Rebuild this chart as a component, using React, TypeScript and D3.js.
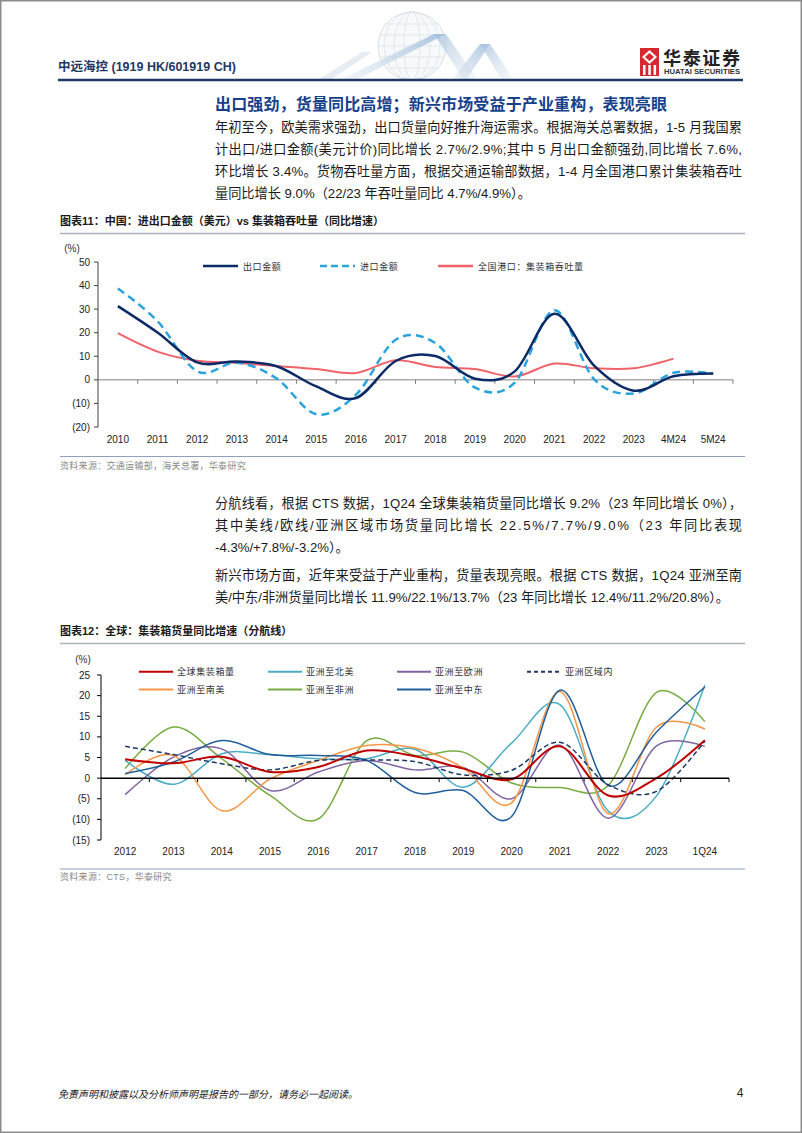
import React from 'react';
import * as d3 from 'd3';

// ---------- Chart 1 data ----------
const cats1 = ['2010','2011','2012','2013','2014','2015','2016','2017','2018','2019','2020','2021','2022','2023','4M24','5M24'];
const exportYoY = [31.3, 20.1, 7.4, 7.8, 5.8, -2.8, -7.7, 8.0, 10.1, 0.5, 3.6, 28.0, 6.0, -4.6, 1.5, 2.7];
const importYoY = [38.8, 24.9, 3.6, 7.3, 0.6, -14.6, -6.3, 17.0, 15.6, -3.3, -1.2, 29.5, 0.3, -5.8, 3.0, 2.6];
const portTEU = [19.8, 12.0, 8.1, 7.2, 5.9, 4.6, 2.9, 8.3, 5.5, 4.6, 1.4, 6.9, 4.9, 4.9, 9.0];
const ticks1 = [-20, -10, 0, 10, 20, 30, 40, 50];

// ---------- Chart 2 data ----------
const cats2 = ['2012','2013','2014','2015','2016','2017','2018','2019','2020','2021','2022','2023','1Q24'];
const globalTEU = [4.6, 3.6, 5.2, 1.5, 2.7, 6.7, 5.3, 2.3, -0.3, 7.7, -4.2, 0.0, 9.2];
const asiaNA = [4.3, -1.5, 5.9, 5.7, 4.7, 4.7, 7.0, -2.2, 8.5, 17.8, -8.0, -4.3, 22.5];
const asiaEU = [-4.0, 5.1, 7.1, -3.0, 1.5, 4.3, 2.0, 2.6, -5.0, 8.0, -9.7, 7.8, 7.7];
const intraAsia = [7.7, 5.7, 3.5, 2.0, 4.3, 4.4, 4.0, 0.8, 1.9, 8.7, -1.6, -3.2, 9.0];
const asiaSA = [0.8, 5.5, -7.9, -0.2, 4.3, 7.9, 7.3, 2.5, -6.0, 21.0, -8.6, 12.4, 11.9];
const asiaAF = [2.3, 12.4, 4.7, -4.2, -9.9, 9.1, 5.5, 6.3, -1.2, -2.3, -1.8, 20.8, 13.7];
const asiaME = [1.1, 3.9, 9.1, 5.7, 5.5, 4.3, -3.5, -3.0, -9.3, 21.3, -1.8, 11.2, 22.1];
const ticks2 = [-15, -10, -5, 0, 5, 10, 15, 20, 25];

// ---------- Text ----------
const headerTitle = '中远海控 (1919 HK/601919 CH)';
const sectionTitle = '出口强劲，货量同比高增；新兴市场受益于产业重构，表现亮眼';
const para1 = [
  '年初至今，欧美需求强劲，出口货量向好推升海运需求。根据海关总署数据，1-5 月我国累',
  '计出口/进口金额(美元计价)同比增长 2.7%/2.9%;其中 5 月出口金额强劲,同比增长 7.6%,',
  '环比增长 3.4%。货物吞吐量方面，根据交通运输部数据，1-4 月全国港口累计集装箱吞吐',
  '量同比增长 9.0%（22/23 年吞吐量同比 4.7%/4.9%）。',
];
const para2 = [
  '分航线看，根据 CTS 数据，1Q24 全球集装箱货量同比增长 9.2%（23 年同比增长 0%），',
  '其中美线/欧线/亚洲区域市场货量同比增长 22.5%/7.7%/9.0%（23 年同比表现',
  '-4.3%/+7.8%/-3.2%）。',
];
const para3 = [
  '新兴市场方面，近年来受益于产业重构，货量表现亮眼。根据 CTS 数据，1Q24 亚洲至南',
  '美/中东/非洲货量同比增长 11.9%/22.1%/13.7%（23 年同比增长 12.4%/11.2%/20.8%）。',
];
const chart1Title = '图表11：中国：进出口金额（美元）vs 集装箱吞吐量（同比增速）';
const chart1Source = '资料来源：交通运输部，海关总署，华泰研究';
const chart2Title = '图表12：全球：集装箱货量同比增速（分航线）';
const chart2Source = '资料来源：CTS，华泰研究';
const footerText = '免责声明和披露以及分析师声明是报告的一部分，请务必一起阅读。';

const MIX = "'Liberation Sans', Arial, 'Noto Sans CJK SC', sans-serif";
const CN = "'Noto Sans CJK SC', sans-serif";

const fmt = (d: number) => (d < 0 ? `(${-d})` : `${d}`);

function Para({ lines, y0, justifyLast }: { lines: string[]; y0: number; justifyLast?: boolean }) {
  return (
    <g>
      {lines.map((l, i) => {
        const just = i < lines.length - 1 || justifyLast;
        return (
          <text key={i} x={215} y={y0 + i * 22} dominantBaseline="central" fontSize={13.2} fontFamily={MIX} fill="#1a1a1a"
            {...(just ? { textLength: 527, lengthAdjust: 'spacing' } : {})}>{l}</text>
        );
      })}
    </g>
  );
}

function Chart1() {
  const x = d3.scaleBand<string>().domain(cats1).range([98, 733]);
  const y = d3.scaleLinear().domain([-20, 50]).range([427, 262]);
  const cx = (c: string) => (x(c) as number) + x.bandwidth() / 2;
  const line = d3.line<[string, number]>().x(d => cx(d[0])).y(d => y(d[1])).curve(d3.curveCatmullRom.alpha(0));
  const ex = cats1.map((c, i) => [c, exportYoY[i]] as [string, number]);
  const im = cats1.map((c, i) => [c, importYoY[i]] as [string, number]);
  const pt = portTEU.map((v, i) => [cats1[i], v] as [string, number]);
  const legend = [
    { x: 203, label: '出口金额', color: '#0c2a66', dash: undefined as string | undefined },
    { x: 320, label: '进口金额', color: '#2aa3dc', dash: '7,4' },
    { x: 438, label: '全国港口：集装箱吞吐量', color: '#f0636b', dash: undefined },
  ];
  return (
    <g>
      <text x={60} y={221} dominantBaseline="central" fontSize={11} fontWeight="bold" fontFamily={MIX} fill="#1a1a1a">{chart1Title}</text>
      <line x1={60} x2={745} y1={233.5} y2={233.5} stroke="#aab2c0" strokeWidth={1.5} />
      <text x={72} y={248} textAnchor="middle" dominantBaseline="central" fontSize={10} fontFamily={MIX} fill="#333">(%)</text>
      {/* y axis */}
      <line x1={98} x2={98} y1={y(50)} y2={y(-20)} stroke="#404040" strokeWidth={1} />
      {ticks1.map(t => (
        <g key={t}>
          <line x1={94} x2={98} y1={y(t)} y2={y(t)} stroke="#404040" />
          <text x={90} y={y(t)} textAnchor="end" dominantBaseline="central" fontSize={10} fontFamily={MIX} fill="#222">{fmt(t)}</text>
        </g>
      ))}
      {/* x axis at zero */}
      <line x1={98} x2={733} y1={y(0)} y2={y(0)} stroke="#7f7f7f" strokeWidth={1} />
      {cats1.map((c) => (
        <g key={c}>
          <line x1={(x(c) as number) + x.bandwidth()} x2={(x(c) as number) + x.bandwidth()} y1={y(0)} y2={y(0) + 4} stroke="#7f7f7f" />
          <text x={cx(c)} y={439} textAnchor="middle" dominantBaseline="central" fontSize={10} fontFamily={MIX} fill="#222">{c}</text>
        </g>
      ))}
      <path d={line(pt) as string} fill="none" stroke="#f0636b" strokeWidth={2} />
      <path d={line(im) as string} fill="none" stroke="#2aa3dc" strokeWidth={2.5} strokeDasharray="8,5" />
      <path d={line(ex) as string} fill="none" stroke="#0c2a66" strokeWidth={2.5} />
      {legend.map(l => (
        <g key={l.label}>
          <line x1={l.x} x2={l.x + 35} y1={266} y2={266} stroke={l.color} strokeWidth={2.5} strokeDasharray={l.dash} />
          <text x={l.x + 40} y={266} dominantBaseline="central" fontSize={9} letterSpacing={0.6} fontFamily={CN} fill="#333">{l.label}</text>
        </g>
      ))}
      <line x1={60} x2={745} y1={456.5} y2={456.5} stroke="#8ea0c0" strokeWidth={1} />
      <text x={60} y={466} dominantBaseline="central" fontSize={9} letterSpacing={0.3} fontFamily={MIX} fill="#8a8a8a">{chart1Source}</text>
    </g>
  );
}

function Chart2() {
  const x = d3.scaleBand<string>().domain(cats2).range([101, 729]);
  const y = d3.scaleLinear().domain([-15, 25]).range([840, 675]);
  const cx = (c: string) => (x(c) as number) + x.bandwidth() / 2;
  const line = d3.line<number>().x((_, i) => cx(cats2[i])).y(d => y(d)).curve(d3.curveCatmullRom.alpha(0));
  const series = [
    { label: '全球集装箱量', data: globalTEU, color: '#c00000', dash: undefined as string | undefined, w: 2, lx: 139, row: 0 },
    { label: '亚洲至北美', data: asiaNA, color: '#4bacc6', dash: undefined, w: 1.5, lx: 268, row: 0 },
    { label: '亚洲至欧洲', data: asiaEU, color: '#8064a2', dash: undefined, w: 1.5, lx: 397, row: 0 },
    { label: '亚洲区域内', data: intraAsia, color: '#1f3864', dash: '5,3', w: 1.5, lx: 527, row: 0 },
    { label: '亚洲至南美', data: asiaSA, color: '#f79646', dash: undefined, w: 1.5, lx: 139, row: 1 },
    { label: '亚洲至非洲', data: asiaAF, color: '#77ac41', dash: undefined, w: 1.5, lx: 268, row: 1 },
    { label: '亚洲至中东', data: asiaME, color: '#215f9c', dash: undefined, w: 1.5, lx: 397, row: 1 },
  ];
  const drawOrder = [5, 1, 2, 4, 6, 3, 0];
  return (
    <g>
      <text x={60} y={631} dominantBaseline="central" fontSize={11} fontWeight="bold" fontFamily={MIX} fill="#1a1a1a">{chart2Title}</text>
      <line x1={60} x2={745} y1={643.5} y2={643.5} stroke="#aab2c0" strokeWidth={1.5} />
      <text x={83} y={659} textAnchor="middle" dominantBaseline="central" fontSize={10} fontFamily={MIX} fill="#333">(%)</text>
      <line x1={101} x2={101} y1={y(25)} y2={y(-15)} stroke="#000" strokeWidth={1} />
      {ticks2.map(t => (
        <g key={t}>
          <line x1={97} x2={101} y1={y(t)} y2={y(t)} stroke="#000" />
          <text x={90} y={y(t)} textAnchor="end" dominantBaseline="central" fontSize={10} fontFamily={MIX} fill="#222">{fmt(t)}</text>
        </g>
      ))}
      {cats2.map(c => (
        <g key={c}>
          <line x1={(x(c) as number) + x.bandwidth()} x2={(x(c) as number) + x.bandwidth()} y1={y(0)} y2={y(0) + 4} stroke="#000" />
          <text x={cx(c)} y={851} textAnchor="middle" dominantBaseline="central" fontSize={10} fontFamily={MIX} fill="#222">{c}</text>
        </g>
      ))}
      {drawOrder.map(i => {
        const s = series[i];
        return <path key={s.label} d={line(s.data) as string} fill="none" stroke={s.color} strokeWidth={s.w} strokeDasharray={s.dash} />;
      })}
      <line x1={101} x2={729} y1={y(0)} y2={y(0)} stroke="#000" strokeWidth={1.5} />
      {series.map(s => {
        const ly = s.row === 0 ? 671.7 : 689.5;
        return (
          <g key={s.label}>
            <line x1={s.lx} x2={s.lx + 34} y1={ly} y2={ly} stroke={s.color} strokeWidth={2} strokeDasharray={s.dash ? '4,3' : undefined} />
            <text x={s.lx + 38} y={ly} dominantBaseline="central" fontSize={9} letterSpacing={0.6} fontFamily={CN} fill="#333">{s.label}</text>
          </g>
        );
      })}
      <line x1={60} x2={745} y1={869} y2={869} stroke="#8ea0c0" strokeWidth={1} />
      <text x={60} y={877} dominantBaseline="central" fontSize={9} letterSpacing={0.3} fontFamily={MIX} fill="#8a8a8a">{chart2Source}</text>
    </g>
  );
}

function Header() {
  const globeLines = [8, 18, 28];
  return (
    <g>
      <defs>
        <clipPath id="hdrclip"><rect x={300} y={0} width={240} height={80} /></clipPath>
        <linearGradient id="rib1" x1="0" y1="1" x2="1" y2="0">
          <stop offset="0" stopColor="#e3e9f0" stopOpacity={0.5} />
          <stop offset="1" stopColor="#7ea7cf" stopOpacity={0.75} />
        </linearGradient>
        <linearGradient id="rib2" x1="0" y1="0" x2="1" y2="1">
          <stop offset="0" stopColor="#94b4d6" stopOpacity={0.75} />
          <stop offset="1" stopColor="#e8edf2" stopOpacity={0.4} />
        </linearGradient>
      </defs>
      <g clipPath="url(#hdrclip)" opacity={0.85}>
        <circle cx={412} cy={46} r={34} fill="#f6f8fa" stroke="#d3dbe3" strokeWidth={1} />
        {globeLines.map(r => (
          <ellipse key={r} cx={412} cy={46} rx={r} ry={34} fill="none" stroke="#d8dfe6" strokeWidth={0.8} />
        ))}
        {[-22, -11, 0, 11, 22].map(o => (
          <line key={o} x1={412 - Math.sqrt(34 * 34 - o * o)} x2={412 + Math.sqrt(34 * 34 - o * o)} y1={46 + o} y2={46 + o} stroke="#d8dfe6" strokeWidth={0.8} />
        ))}
        <polygon points="340,80 356,80 446,34 434,34" fill="url(#rib1)" />
        <polygon points="434,34 446,34 478,80 464,80" fill="url(#rib2)" />
        <polygon points="452,80 466,80 490,44 480,44" fill="url(#rib1)" />
        <polygon points="480,44 490,44 514,80 502,80" fill="url(#rib2)" />
        <polygon points="318,80 330,80 372,52 362,52" fill="#d6e0ea" opacity={0.7} />
      </g>
      <text x={58} y={67} dominantBaseline="central" fontSize={12.5} fontWeight="bold" fontFamily={MIX} fill="#1f3864">{headerTitle}</text>
      <line x1={58} x2={743} y1={80} y2={80} stroke="#1f3864" strokeWidth={2.5} />
      {/* logo */}
      <rect x={640} y={48} width={19} height={28} fill="#d7282f" />
      <polygon points="649.5,50 657,57 649.5,64 642,57" fill="#fff" />
      <polygon points="649.5,53 654,57 649.5,61 645,57" fill="#d7282f" />
      <rect x={643} y={65} width={2.5} height={10} fill="#fff" />
      <rect x={648.3} y={65} width={2.5} height={10} fill="#fff" />
      <rect x={653.6} y={65} width={2.5} height={10} fill="#fff" />
      <text x={663} y={57} dominantBaseline="central" fontSize={18} fontWeight="bold" fontFamily={CN} fill="#222" textLength={77} lengthAdjust="spacing">华泰证券</text>
      <text x={664} y={71.5} dominantBaseline="central" fontSize={7} fontWeight="bold" fontFamily={MIX} fill="#333" textLength={76} lengthAdjust="spacingAndGlyphs">HUATAI SECURITIES</text>
    </g>
  );
}

export default function App() {
  return (
    <svg width={802} height={1133} viewBox="0 0 802 1133" style={{ position: 'absolute', left: 0, top: 0, display: 'block', background: '#fff' }}>
      <rect x={0} y={0} width={802} height={1133} fill="#fff" />
      <Header />
      <text x={215} y={103} dominantBaseline="central" fontSize={16} fontWeight="bold" fontFamily={CN} fill="#17408b" textLength={452} lengthAdjust="spacing">{sectionTitle}</text>
      <Para lines={para1} y0={127} />
      <Chart1 />
      <Para lines={para2} y0={503.5} />
      <Para lines={para3} y0={575.5} />
      <Chart2 />
      <text x={58} y={1093} dominantBaseline="central" fontSize={10} fontStyle="italic" fontFamily={CN} fill="#222">{footerText}</text>
      <text x={740} y={1093} textAnchor="middle" dominantBaseline="central" fontSize={12} fontFamily={MIX} fill="#222">4</text>
      <rect x={0.75} y={0.75} width={800.5} height={1131.5} fill="none" stroke="#8c8c8c" strokeWidth={1.5} />
    </svg>
  );
}
